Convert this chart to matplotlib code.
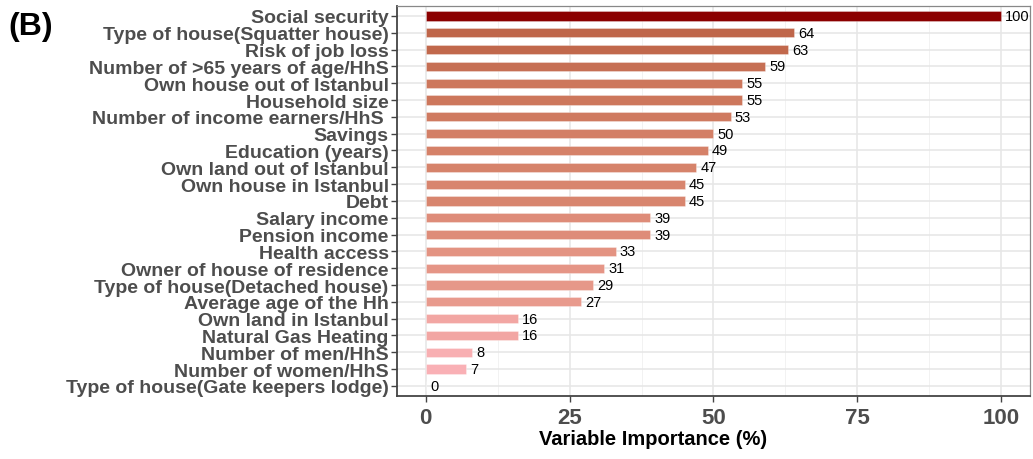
import numpy as np
import matplotlib.pyplot as plt
from matplotlib.colors import LinearSegmentedColormap

variables = [
    "Social security",
    "Type of house(Squatter house)",
    "Risk of job loss",
    "Number of >65 years of age/HhS",
    "Own house out of Istanbul",
    "Household size",
    "Number of income earners/HhS ",
    "Savings",
    "Education (years)",
    "Own land out of Istanbul",
    "Own house in Istanbul",
    "Debt",
    "Salary income",
    "Pension income",
    "Health access",
    "Owner of house of residence",
    "Type of house(Detached house)",
    "Average age of the Hh",
    "Own land in Istanbul",
    "Natural Gas Heating",
    "Number of men/HhS",
    "Number of women/HhS",
    "Type of house(Gate keepers lodge)",
]
importance = [100, 64, 63, 59, 55, 55, 53, 50, 49, 47, 45, 45, 39, 39,
              33, 31, 29, 27, 16, 16, 8, 7, 0]

plt.rcParams['font.family'] = ['Liberation Sans', 'DejaVu Sans']

# pink -> dark red fill scale
cmap = LinearSegmentedColormap.from_list("imp", [
    (0.00, (1.00, 0.72, 0.76)),
    (0.30, (0.90, 0.59, 0.53)),
    (0.50, (0.83, 0.50, 0.40)),
    (0.64, (0.75, 0.40, 0.29)),
    (1.00, (0.545, 0.0, 0.0)),
])

fig = plt.figure(figsize=(10.33, 4.6), dpi=100)
ax = fig.add_axes([0.3843, 0.137, 0.6127, 0.848])

y = np.arange(len(variables))[::-1]
vals = np.array(importance, dtype=float)
colors = cmap(vals / 100)
ax.barh(y, vals, height=0.55, color=colors, edgecolor=(1, 1, 1, 0.35),
        linewidth=0.6, zorder=3)

for yi, v in zip(y, importance):
    ax.annotate(str(v), xy=(v, yi), xytext=(3, 0), textcoords="offset points",
                ha="left", va="center", fontsize=10.5, color="black", zorder=4)

ax.set_xlim(-5, 105)
ax.set_ylim(-0.6, len(variables) - 0.4)
ax.set_xticks([0, 25, 50, 75, 100])
ax.set_xticks([12.5, 37.5, 62.5, 87.5], minor=True)
ax.set_yticks(y)
ax.set_yticklabels(variables)

ax.grid(which="major", color="#E6E6E6", linewidth=1.1, zorder=0)
ax.grid(which="minor", axis="x", color="#F0F0F0", linewidth=0.6, zorder=0)
ax.set_axisbelow(True)

for s in ax.spines.values():
    s.set_color("#888888")
    s.set_linewidth(0.9)
for s in ("left", "bottom"):
    ax.spines[s].set_color("#444444")
    ax.spines[s].set_linewidth(1.3)

ax.tick_params(axis="both", which="major", length=4, width=1, color="#444444")
ax.tick_params(axis="x", which="minor", length=0)
ax.tick_params(axis="y", labelsize=14, labelcolor="#4D4D4D", pad=2)
ax.tick_params(axis="x", labelsize=16, labelcolor="#4D4D4D", pad=4)
for lab in ax.get_yticklabels() + ax.get_xticklabels():
    lab.set_fontweight("bold")

ax.set_xlabel("Variable Importance (%)", fontsize=14.5, fontweight="bold",
              color="black")
ax.xaxis.set_label_coords(0.404, -0.085)

fig.text(0.008, 0.975, "(B)", fontsize=23, fontweight="bold", ha="left", va="top")

fig.savefig("out.png", dpi=100)
